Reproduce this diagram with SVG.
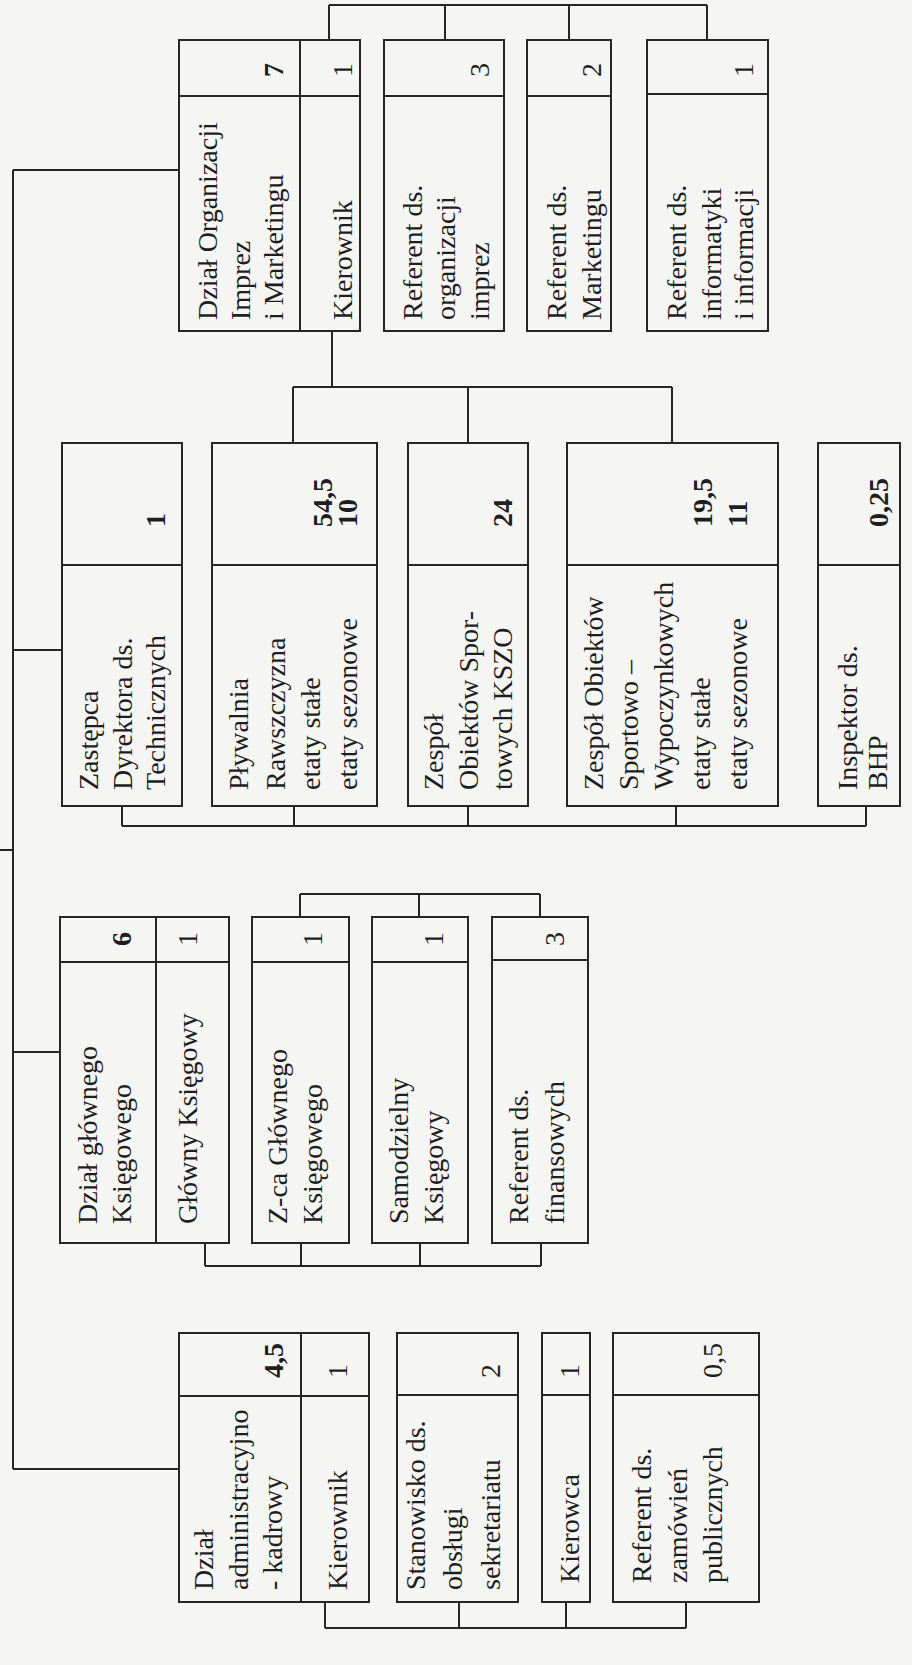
<svg xmlns="http://www.w3.org/2000/svg" width="912" height="1665" viewBox="0 0 912 1665">
<style>
.bg{fill:#f5f5f3}
.box{fill:none;stroke:#262626;stroke-width:2}
.ln{fill:none;stroke:#262626;stroke-width:2}
text{font-family:"Liberation Serif","Times New Roman",serif;font-size:28px;fill:#1e1e1e}
.b{font-weight:bold}
</style>
<rect class="bg" x="0" y="0" width="912" height="1665"/>
<g id="connectors">
<path class="ln" d="M329,5 H707 M329,5 V40 M445,5 V40 M569,5 V40 M707,5 V40"/>
<path class="ln" d="M13,170 V1469 M13,170 H179 M13,650 H62 M0,850 H13 M13,1052 H60 M13,1469 H179"/>
<path class="ln" d="M332,331 V387 M293,387 H672 M293,387 V443 M468,387 V443 M672,387 V443"/>
<path class="ln" d="M122,826 H866 M122,806 V826 M294,806 V826 M468,806 V826 M676,806 V826 M866,806 V826"/>
<path class="ln" d="M300,894 H540 M300,894 V917 M419,894 V917 M540,894 V917"/>
<path class="ln" d="M205,1266 H541 M205,1243 V1266 M301,1243 V1266 M420,1243 V1266 M541,1243 V1266"/>
<path class="ln" d="M325,1628 H686 M325,1602 V1628 M459,1602 V1628 M566,1602 V1628 M686,1602 V1628"/>
</g>
<g id="n-dzial-organizacji">
<rect class="box" x="179" y="40" width="181" height="291"/>
<path class="ln" d="M300,40 V331 M179,96 H360"/>
<text transform="rotate(-90 217 320)" x="217" y="320">Dział Organizacji</text>
<text transform="rotate(-90 250 320)" x="250" y="320">Imprez</text>
<text transform="rotate(-90 283 320)" x="283" y="320">i Marketingu</text>
<text class="b" transform="rotate(-90 283 77)" x="283" y="77">7</text>
<text transform="rotate(-90 352 320)" x="352" y="320">Kierownik</text>
<text transform="rotate(-90 352 77)" x="352" y="77">1</text>
</g>
<g id="n-ref-organizacji">
<rect class="box" x="384" y="40" width="120" height="291"/>
<path class="ln" d="M384,96 H504"/>
<text transform="rotate(-90 422 320)" x="422" y="320">Referent ds.</text>
<text transform="rotate(-90 455 320)" x="455" y="320">organizacji</text>
<text transform="rotate(-90 489 320)" x="489" y="320">imprez</text>
<text transform="rotate(-90 489 77)" x="489" y="77">3</text>
</g>
<g id="n-ref-marketingu">
<rect class="box" x="527" y="40" width="84" height="291"/>
<path class="ln" d="M527,96 H611"/>
<text transform="rotate(-90 566 320)" x="566" y="320">Referent ds.</text>
<text transform="rotate(-90 601 320)" x="601" y="320">Marketingu</text>
<text transform="rotate(-90 601 77)" x="601" y="77">2</text>
</g>
<g id="n-ref-informatyki">
<rect class="box" x="647" y="40" width="121" height="291"/>
<path class="ln" d="M647,94 H768"/>
<text transform="rotate(-90 686 320)" x="686" y="320">Referent ds.</text>
<text transform="rotate(-90 721 320)" x="721" y="320">informatyki</text>
<text transform="rotate(-90 753 320)" x="753" y="320">i informacji</text>
<text transform="rotate(-90 753 77)" x="753" y="77">1</text>
</g>
<g id="n-zastepca">
<rect class="box" x="62" y="443" width="120" height="363"/>
<path class="ln" d="M62,565 H182"/>
<text transform="rotate(-90 98 790)" x="98" y="790">Zastępca</text>
<text transform="rotate(-90 132 790)" x="132" y="790">Dyrektora ds.</text>
<text transform="rotate(-90 165 790)" x="165" y="790">Technicznych</text>
<text class="b" transform="rotate(-90 165 527)" x="165" y="527">1</text>
</g>
<g id="n-plywalnia">
<rect class="box" x="212" y="443" width="165" height="363"/>
<path class="ln" d="M212,565 H377"/>
<text transform="rotate(-90 248 790)" x="248" y="790">Pływalnia</text>
<text transform="rotate(-90 285 790)" x="285" y="790">Rawszczyzna</text>
<text transform="rotate(-90 320 790)" x="320" y="790">etaty stałe</text>
<text transform="rotate(-90 357 790)" x="357" y="790">etaty sezonowe</text>
<text class="b" transform="rotate(-90 332 527)" x="332" y="527">54,5</text>
<text class="b" transform="rotate(-90 357 527)" x="357" y="527">10</text>
</g>
<g id="n-kszo">
<rect class="box" x="408" y="443" width="120" height="363"/>
<path class="ln" d="M408,565 H528"/>
<text transform="rotate(-90 443 790)" x="443" y="790">Zespół</text>
<text transform="rotate(-90 478 790)" x="478" y="790">Obiektów Spor-</text>
<text transform="rotate(-90 512 790)" x="512" y="790">towych KSZO</text>
<text class="b" transform="rotate(-90 512 527)" x="512" y="527">24</text>
</g>
<g id="n-sportowo">
<rect class="box" x="567" y="443" width="211" height="363"/>
<path class="ln" d="M567,565 H778"/>
<text transform="rotate(-90 603 790)" x="603" y="790">Zespół Obiektów</text>
<text transform="rotate(-90 638 790)" x="638" y="790">Sportowo –</text>
<text transform="rotate(-90 673 790)" x="673" y="790">Wypoczynkowych</text>
<text transform="rotate(-90 710 790)" x="710" y="790">etaty stałe</text>
<text transform="rotate(-90 747 790)" x="747" y="790">etaty sezonowe</text>
<text class="b" transform="rotate(-90 712 527)" x="712" y="527">19,5</text>
<text class="b" transform="rotate(-90 747 527)" x="747" y="527">11</text>
</g>
<g id="n-inspektor">
<rect class="box" x="818" y="443" width="82" height="363"/>
<path class="ln" d="M818,565 H900"/>
<text transform="rotate(-90 857 790)" x="857" y="790">Inspektor ds.</text>
<text transform="rotate(-90 887 790)" x="887" y="790">BHP</text>
<text class="b" transform="rotate(-90 888 527)" x="888" y="527">0,25</text>
</g>
<g id="n-dzial-ksiegowego">
<rect class="box" x="60" y="917" width="169" height="326"/>
<path class="ln" d="M156,917 V1243 M60,962 H229"/>
<text transform="rotate(-90 97 1224)" x="97" y="1224">Dział głównego</text>
<text transform="rotate(-90 131 1224)" x="131" y="1224">Księgowego</text>
<text class="b" transform="rotate(-90 131 946)" x="131" y="946">6</text>
<text transform="rotate(-90 197 1224)" x="197" y="1224">Główny Księgowy</text>
<text transform="rotate(-90 197 946)" x="197" y="946">1</text>
</g>
<g id="n-zca">
<rect class="box" x="252" y="917" width="97" height="326"/>
<path class="ln" d="M252,962 H349"/>
<text transform="rotate(-90 287 1224)" x="287" y="1224">Z-ca Głównego</text>
<text transform="rotate(-90 322 1224)" x="322" y="1224">Księgowego</text>
<text transform="rotate(-90 322 946)" x="322" y="946">1</text>
</g>
<g id="n-samodzielny">
<rect class="box" x="372" y="917" width="96" height="326"/>
<path class="ln" d="M372,962 H468"/>
<text transform="rotate(-90 408 1224)" x="408" y="1224">Samodzielny</text>
<text transform="rotate(-90 443 1224)" x="443" y="1224">Księgowy</text>
<text transform="rotate(-90 443 946)" x="443" y="946">1</text>
</g>
<g id="n-ref-finansowych">
<rect class="box" x="492" y="917" width="96" height="326"/>
<path class="ln" d="M492,960 H588"/>
<text transform="rotate(-90 528 1224)" x="528" y="1224">Referent ds.</text>
<text transform="rotate(-90 564 1224)" x="564" y="1224">finansowych</text>
<text transform="rotate(-90 564 946)" x="564" y="946">3</text>
</g>
<g id="n-dzial-administracyjny">
<rect class="box" x="179" y="1333" width="190" height="269"/>
<path class="ln" d="M301,1333 V1602 M179,1396 H369"/>
<text transform="rotate(-90 213 1590)" x="213" y="1590">Dział</text>
<text transform="rotate(-90 248 1590)" x="248" y="1590">administracyjno</text>
<text transform="rotate(-90 282 1590)" x="282" y="1590">- kadrowy</text>
<text class="b" transform="rotate(-90 283 1378)" x="283" y="1378">4,5</text>
<text transform="rotate(-90 347 1590)" x="347" y="1590">Kierownik</text>
<text transform="rotate(-90 347 1378)" x="347" y="1378">1</text>
</g>
<g id="n-stanowisko">
<rect class="box" x="397" y="1333" width="121" height="269"/>
<path class="ln" d="M397,1395 H518"/>
<text transform="rotate(-90 425 1590)" x="425" y="1590">Stanowisko ds.</text>
<text transform="rotate(-90 462 1590)" x="462" y="1590">obsługi</text>
<text transform="rotate(-90 500 1590)" x="500" y="1590">sekretariatu</text>
<text transform="rotate(-90 500 1378)" x="500" y="1378">2</text>
</g>
<g id="n-kierowca">
<rect class="box" x="542" y="1333" width="48" height="269"/>
<path class="ln" d="M542,1395 H590"/>
<text transform="rotate(-90 579 1583)" x="579" y="1583">Kierowca</text>
<text transform="rotate(-90 579 1378)" x="579" y="1378">1</text>
</g>
<g id="n-ref-zamowien">
<rect class="box" x="613" y="1333" width="146" height="269"/>
<path class="ln" d="M613,1395 H759"/>
<text transform="rotate(-90 651 1583)" x="651" y="1583">Referent ds.</text>
<text transform="rotate(-90 687 1583)" x="687" y="1583">zamówień</text>
<text transform="rotate(-90 722 1583)" x="722" y="1583">publicznych</text>
<text transform="rotate(-90 722 1378)" x="722" y="1378">0,5</text>
</g>
</svg>
